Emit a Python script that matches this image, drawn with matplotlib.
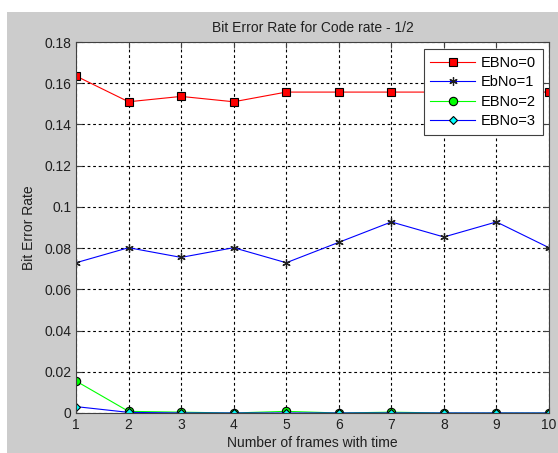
import matplotlib
matplotlib.use("Agg")
import matplotlib.pyplot as plt
from matplotlib.patches import Rectangle

# bit error rate per frame, one list per Eb/No setting
frames = [1, 2, 3, 4, 5, 6, 7, 8, 9, 10]
ber_ebno0 = [0.1635, 0.151, 0.1536, 0.151, 0.1557, 0.1557, 0.1557, 0.1557, 0.1557, 0.1557]
ber_ebno1 = [0.0729, 0.0802, 0.0755, 0.0802, 0.0729, 0.0828, 0.0927, 0.0854, 0.0927, 0.0802]
ber_ebno2 = [0.0155, 0.0008, 0.0004, 0.0, 0.0008, 0.0, 0.0004, 0.0, 0.0, 0.0]
ber_ebno3 = [0.0031, 0.0003, 0.0, 0.0, 0.0, 0.0, 0.0, 0.0, 0.0, 0.0]

plt.rcParams['font.family'] = ['Liberation Sans', 'DejaVu Sans']
plt.rcParams['font.size'] = 10

fig = plt.figure(figsize=(5.58, 4.53), dpi=100, facecolor='white')
# grey window area, white margin on top and left
fig.patches.append(Rectangle((7 / 558, 0), 1, 441 / 453, transform=fig.transFigure,
                             facecolor='#cccccc', edgecolor='none', zorder=-10))
ax = fig.add_axes([76 / 558, 40 / 453, 473 / 558, 371 / 453])
ax.set_facecolor('white')

ax.plot(frames, ber_ebno0, color='red', linewidth=0.8, marker='s', markersize=6,
        markerfacecolor='red', markeredgecolor='black', markeredgewidth=0.8, label='EBNo=0')
ax.plot(frames, ber_ebno1, color='blue', linewidth=0.8, marker=(6, 2, 0), markersize=6,
        markerfacecolor='black', markeredgecolor='#202020', markeredgewidth=0.9, label='EbNo=1')
ax.plot(frames, ber_ebno2, color='#00ff00', linewidth=0.8, marker='o', markersize=6,
        markerfacecolor='#00ff00', markeredgecolor='black', markeredgewidth=0.8, label='EBNo=2')
ax.plot(frames, ber_ebno3, color='blue', linewidth=0.8, marker='D', markersize=4.5,
        markerfacecolor='cyan', markeredgecolor='black', markeredgewidth=0.8, label='EBNo=3')

ax.set_xlim(1, 10)
ax.set_ylim(0, 0.18)
ax.set_xticks(frames)
ax.set_yticks([0, 0.02, 0.04, 0.06, 0.08, 0.1, 0.12, 0.14, 0.16, 0.18])
ax.set_yticklabels(['0', '0.02', '0.04', '0.06', '0.08', '0.1', '0.12', '0.14', '0.16', '0.18'])
ax.tick_params(direction='in', length=4, color='#404040', top=True, right=True, labelcolor='#202020')
ax.grid(True, color='black', linestyle=(0, (2.5, 2.5)), linewidth=0.8)
for s in ax.spines.values():
    s.set_color('#404040')

ax.set_title('Bit Error Rate for Code rate - 1/2', fontsize=10, color='#202020', pad=7)
ax.set_xlabel('Number of frames with time', color='#202020', labelpad=3)
ax.set_ylabel('Bit Error Rate', color='#202020', labelpad=6)

leg = ax.legend(loc='upper right', bbox_to_anchor=(0.987, 0.981), borderaxespad=0,
                fancybox=False, framealpha=1, edgecolor='#404040', fontsize=10.5,
                handlelength=3.1, handletextpad=0.4, borderpad=0.45, labelspacing=0.38)
leg.get_frame().set_linewidth(0.8)

fig.savefig('out.png', dpi=100, facecolor=fig.get_facecolor())
